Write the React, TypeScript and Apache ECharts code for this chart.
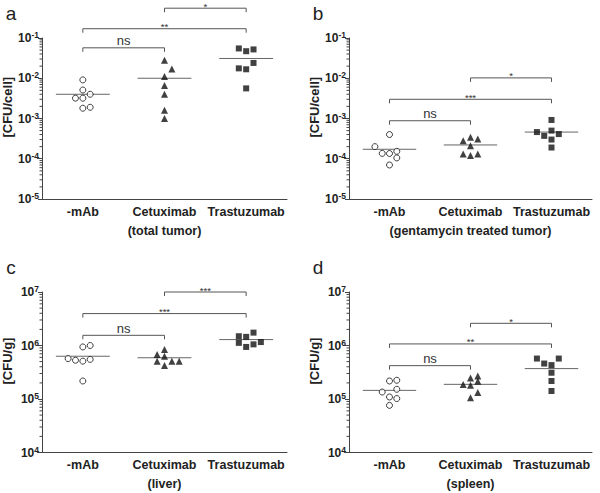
import React, { useEffect, useRef } from "react";
import * as echarts from "echarts";

const categories = ["-mAb", "Cetuximab", "Trastuzumab"];
const xNames = ["(total tumor)", "(gentamycin treated tumor)", "(liver)", "(spleen)"];
const yNames = ["[CFU/cell]", "[CFU/cell]", "[CFU/g]", "[CFU/g]"];
const letters = ["a", "b", "c", "d"];
const yMins = [1e-5, 1e-5, 1e4, 1e4];
const yMaxs = [1e-1, 1e-1, 1e7, 1e7];

// panel a (total tumor)
const aMab = [0.0091, 0.0051, 0.004, 0.0032, 0.0032, 0.0018, 0.0019];
const aMabJit = [0, 0, 1, -1, 0, 0, 1];
const aCet = [0.028, 0.017, 0.011, 0.0066, 0.004, 0.0016, 0.001];
const aCetJit = [0, 1, 0, 0, 0, 0, 0];
const aTra = [0.055, 0.047, 0.052, 0.024, 0.0176, 0.0167, 0.0056];
const aTraJit = [-1, 0, 1, 1, -1, 0, 0];
const aMeans = [0.004, 0.01, 0.031];
const aBrackets: [number, number, number, string][] = [
  [1, 2, 0.55, "*"],
  [0, 2, 0.17, "**"],
  [0, 1, 0.057, "ns"],
];

// panel b (gentamycin treated tumor)
const bMab = [4.0e-4, 2.0e-4, 1.36e-4, 1.35e-4, 1.53e-4, 1.05e-4, 7.0e-5];
const bMabJit = [0, -2, -1, 0, 1, 1, 0];
const bCet = [2.8e-4, 3.4e-4, 3.1e-4, 2.1e-4, 1.32e-4, 1.2e-4, 1.32e-4];
const bCetJit = [-1, 0, 1, 0, -1, 0, 1];
const bTra = [9.2e-4, 4.6e-4, 5.0e-4, 3.7e-4, 4.1e-4, 3.0e-4, 1.9e-4];
const bTraJit = [0, -2, 0, -1, 1, 0, 0];
const bMeans = [1.72e-4, 2.2e-4, 4.6e-4];
const bBrackets: [number, number, number, string][] = [
  [1, 2, 0.0102, "*"],
  [0, 2, 0.003, "***"],
  [0, 1, 8.8e-4, "ns"],
];

// panel c (liver)
const cMab = [9.4e5, 1.0e6, 5.7e5, 5.3e5, 5.1e5, 5.5e5, 2.17e5];
const cMabJit = [0, 1, -2, -1, 0, 1, 0];
const cCet = [8.4e5, 6.8e5, 6.3e5, 5.1e5, 4.25e5, 5.1e5, 5.1e5];
const cCetJit = [0, -1, 0, -1, 0, 1, 2];
const cTra = [1.49e6, 1.45e6, 1.74e6, 1.12e6, 9.4e5, 1.05e6, 1.16e6];
const cTraJit = [-1, 0, 1, -1, 0, 1, 2];
const cMeans = [6.3e5, 5.9e5, 1.29e6];
const cBrackets: [number, number, number, string][] = [
  [1, 2, 1e7, "***"],
  [0, 2, 3.95e6, "***"],
  [0, 1, 1.55e6, "ns"],
];

// panel d (spleen)
const dMab = [2.17e5, 2.24e5, 1.35e5, 1.52e5, 1.09e5, 1.02e5, 7.6e4];
const dMabJit = [0, 1, -1, 1, 0, 1, 0];
const dCet = [2.48e5, 2.7e5, 2.14e5, 1.86e5, 1.8e5, 1.32e5, 1.05e5];
const dCetJit = [0, 1, 1, -1, 0, 1, 0];
const dTra = [5.7e5, 4.6e5, 4.3e5, 5.7e5, 3.1e5, 2.17e5, 1.41e5];
const dTraJit = [-2, -1, 0, 1, 0, 0, 0];
const dMeans = [1.45e5, 1.88e5, 3.7e5];
const dBrackets: [number, number, number, string][] = [
  [1, 2, 2.6e6, "*"],
  [0, 2, 1.07e6, "**"],
  [0, 1, 4.2e5, "ns"],
];

const panels = [
  { groups: [[aMab, aMabJit], [aCet, aCetJit], [aTra, aTraJit]], means: aMeans, brackets: aBrackets },
  { groups: [[bMab, bMabJit], [bCet, bCetJit], [bTra, bTraJit]], means: bMeans, brackets: bBrackets },
  { groups: [[cMab, cMabJit], [cCet, cCetJit], [cTra, cTraJit]], means: cMeans, brackets: cBrackets },
  { groups: [[dMab, dMabJit], [dCet, dCetJit], [dTra, dTraJit]], means: dMeans, brackets: dBrackets },
];

// layout
const GRIDS = [
  { left: 42, top: 38, width: 245, height: 161 },
  { left: 349, top: 38, width: 243, height: 161 },
  { left: 42, top: 292, width: 245, height: 160.5 },
  { left: 349, top: 292, width: 243, height: 160.5 },
];
const FONT = '"Liberation Sans", Arial, Helvetica, sans-serif';
const AX = "#444";
const STEP = 0.09;
const HALF = 0.33;
const SYMBOLS = [
  { symbol: "circle", size: 6, itemStyle: { color: "#fff", borderColor: "#111", borderWidth: 1 } },
  { symbol: "triangle", size: 7, itemStyle: { color: "#111" } },
  { symbol: "rect", size: 6, itemStyle: { color: "#111" } },
];

function buildOption() {
  const xAxis: any[] = [];
  const yAxis: any[] = [];
  const series: any[] = [];
  const graphic: any[] = [];

  GRIDS.forEach((g, p) => {
    xAxis.push({
      type: "category",
      gridIndex: p,
      data: categories,
      boundaryGap: true,
      axisLine: { onZero: false, lineStyle: { color: AX, width: 1 } },
      axisTick: { alignWithLabel: true, length: 4, lineStyle: { color: AX } },
      axisLabel: { interval: 0, margin: 6, fontFamily: FONT, fontWeight: "bold", fontSize: 12.5, color: "#222" },
      splitLine: { show: false },
      name: xNames[p],
      nameLocation: "middle",
      nameGap: 25,
      nameTextStyle: { fontFamily: FONT, fontWeight: "bold", fontSize: 12.5, color: "#222" },
    });
  });
  GRIDS.forEach((g, p) => {
    xAxis.push({ type: "value", gridIndex: p, min: -0.5, max: 2.5, show: false, axisLine: { onZero: false } });
  });
  GRIDS.forEach((g, p) => {
    yAxis.push({
      type: "log",
      logBase: 10,
      gridIndex: p,
      min: yMins[p],
      max: yMaxs[p],
      axisLine: { show: true, onZero: false, lineStyle: { color: AX, width: 1 } },
      axisTick: { show: true, length: 4, lineStyle: { color: AX } },
      minorTick: { show: false },
      splitLine: { show: false },
      axisLabel: {
        margin: 3,
        formatter: (v: number) => `{b|10}{s|${Math.round(Math.log10(v))}}`,
        rich: {
          b: { fontFamily: FONT, fontWeight: "bold", fontSize: 12, color: "#222", lineHeight: 15 },
          s: { fontFamily: FONT, fontWeight: "bold", fontSize: 8.5, color: "#222", lineHeight: 9, verticalAlign: "top" },
        },
      },
    });
  });

  panels.forEach((pan, p) => {
    pan.groups.forEach((grp, ci) => {
      const vals = grp[0] as number[];
      const jit = grp[1] as number[];
      const sym = SYMBOLS[ci];
      series.push({
        type: "scatter",
        xAxisIndex: 4 + p,
        yAxisIndex: p,
        symbol: sym.symbol,
        symbolSize: sym.size,
        itemStyle: sym.itemStyle,
        silent: true,
        z: 4,
        data: vals.map((v, i) => [ci + jit[i] * STEP, v]),
      });
    });
    // mean lines
    series.push({
      type: "custom",
      xAxisIndex: 4 + p,
      yAxisIndex: p,
      silent: true,
      z: 3,
      encode: { x: 0, y: 1 },
      data: pan.means.map((m, i) => [i, m]),
      renderItem: (params: any, api: any) => {
        const a = api.coord([api.value(0) - HALF, api.value(1)]);
        const b = api.coord([api.value(0) + HALF, api.value(1)]);
        return {
          type: "line",
          shape: { x1: a[0], y1: a[1], x2: b[0], y2: b[1] },
          style: { stroke: "#666", lineWidth: 1 },
        };
      },
    });
    // brackets
    const br = pan.brackets;
    series.push({
      type: "custom",
      xAxisIndex: 4 + p,
      yAxisIndex: p,
      silent: true,
      z: 3,
      clip: false,
      encode: { x: [0, 1], y: 2 },
      data: br.map((b) => [b[0], b[1], b[2]]),
      renderItem: (params: any, api: any) => {
        const l = api.coord([api.value(0), api.value(2)]);
        const r = api.coord([api.value(1), api.value(2)]);
        const label = br[params.dataIndex][3];
        const isNs = label === "ns";
        return {
          type: "group",
          children: [
            {
              type: "polyline",
              shape: { points: [[l[0], l[1] + 4], [l[0], l[1]], [r[0], r[1]], [r[0], r[1] + 4]] },
              style: { stroke: "#555", lineWidth: 1, fill: null },
            },
            {
              type: "text",
              x: (l[0] + r[0]) / 2,
              y: l[1] - (isNs ? 7 : 2),
              style: {
                text: label,
                align: "center",
                verticalAlign: "middle",
                fontFamily: FONT,
                fontSize: isNs ? 13 : 9.5,
                fill: "#333",
              },
            },
          ],
        };
      },
    });
    // minor log ticks on the y axis
    const minor: number[][] = [];
    const e0 = Math.round(Math.log10(yMins[p]));
    const e1 = Math.round(Math.log10(yMaxs[p]));
    for (let e = e0; e < e1; e++) {
      for (let k = 2; k <= 9; k++) minor.push([-0.5, k * Math.pow(10, e)]);
    }
    series.push({
      type: "custom",
      xAxisIndex: 4 + p,
      yAxisIndex: p,
      silent: true,
      z: 3,
      clip: false,
      encode: { x: 0, y: 1 },
      data: minor,
      renderItem: (params: any, api: any) => {
        const c = api.coord([api.value(0), api.value(1)]);
        return {
          type: "line",
          shape: { x1: c[0] - 2.5, y1: c[1], x2: c[0], y2: c[1] },
          style: { stroke: AX, lineWidth: 1 },
        };
      },
    });

    const g = GRIDS[p];
    graphic.push({
      type: "text",
      x: g.left - 35,
      y: g.top + g.height * 0.43,
      rotation: Math.PI / 2,
      style: {
        text: yNames[p],
        align: "center",
        verticalAlign: "middle",
        fontFamily: FONT,
        fontWeight: "bold",
        fontSize: 13,
        fill: "#222",
      },
    });
    graphic.push({
      type: "text",
      x: g.left - 31,
      y: g.top - 24.5,
      style: {
        text: letters[p],
        align: "center",
        verticalAlign: "middle",
        fontFamily: FONT,
        fontSize: 19,
        fill: "#222",
      },
    });
  });

  return {
    animation: false,
    backgroundColor: "#fff",
    grid: GRIDS.map((g) => ({ ...g, containLabel: false })),
    xAxis,
    yAxis,
    series,
    graphic,
  };
}

export default function App() {
  const ref = useRef<HTMLDivElement>(null);
  useEffect(() => {
    document.body.style.margin = "0";
    const chart = echarts.init(ref.current!, null, { renderer: "svg" });
    chart.setOption(buildOption() as any);
    return () => chart.dispose();
  }, []);
  return <div ref={ref} style={{ position: "fixed", left: 0, top: 0, width: 600, height: 493 }} />;
}
